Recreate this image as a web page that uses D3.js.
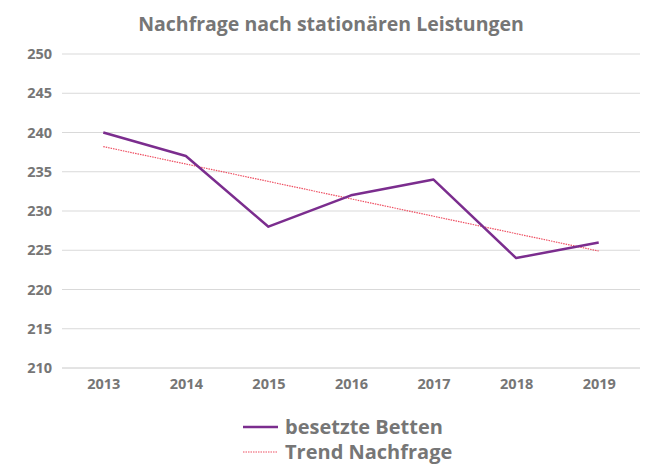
<!DOCTYPE html>
<html>
<head>
<meta charset="utf-8">
<script src="https://cdn.jsdelivr.net/npm/d3@7"></script>
<style>
  body { margin: 0; background: #fff; }
  text { font-family: "Open Sans", sans-serif; font-weight: 700; fill: #767676; }
</style>
</head>
<body>
<div id="chart"></div>
<script>
// chart data
var years = ["2013", "2014", "2015", "2016", "2017", "2018", "2019"];
var betten = [240, 237, 228, 232, 234, 224, 226];
// linear trend, endpoints
var trendYears = ["2013", "2019"];
var trend = [238.2, 224.9];
var yTicks = [210, 215, 220, 225, 230, 235, 240, 245, 250];

var width = 653, height = 464;
var plotLeft = 62, plotRight = 640, plotTop = 54, plotBottom = 368;

var svg = d3.select("#chart").append("svg")
    .attr("width", width)
    .attr("height", height);

var x = d3.scalePoint().domain(years).range([plotLeft, plotRight]).padding(0.5);
var y = d3.scaleLinear().domain([210, 250]).range([plotBottom, plotTop]);

// title
svg.append("text")
    .attr("x", 331).attr("y", 31)
    .attr("text-anchor", "middle")
    .style("font-size", "19.5px")
    .text("Nachfrage nach stationären Leistungen");

// gridlines
svg.append("g").selectAll("line")
    .data(yTicks)
    .enter().append("line")
    .attr("x1", plotLeft).attr("x2", plotRight)
    .attr("y1", function(d) { return y(d); })
    .attr("y2", function(d) { return y(d); })
    .attr("stroke", function(d) { return d === 210 ? "#c8c8c8" : "#d9d9d9"; })
    .attr("stroke-width", 1);

// y axis labels
var yAxis = svg.append("g")
    .attr("transform", "translate(" + (plotLeft - 10) + ",0)")
    .call(d3.axisLeft(y).tickValues(yTicks).tickSize(0).tickPadding(0));
yAxis.select(".domain").remove();
yAxis.selectAll("text").style("font-size", "14.5px");

// x axis labels
var xAxis = svg.append("g")
    .attr("transform", "translate(0," + (plotBottom + 11) + ")")
    .call(d3.axisBottom(x).tickSize(0).tickPadding(0));
xAxis.select(".domain").remove();
xAxis.selectAll("text").style("font-size", "14.5px");

var purple = "#7b2d8e";
var red = "#ee4f62";

// trend line
svg.append("path")
    .datum(trendYears.map(function(d, i) { return [d, trend[i]]; }))
    .attr("fill", "none")
    .attr("stroke", red)
    .attr("stroke-width", 1.2)
    .attr("stroke-dasharray", "1.5,1")
    .attr("d", d3.line().x(function(d) { return x(d[0]); }).y(function(d) { return y(d[1]); }));

// besetzte Betten
svg.append("path")
    .datum(years.map(function(d, i) { return [d, betten[i]]; }))
    .attr("fill", "none")
    .attr("stroke", purple)
    .attr("stroke-width", 2.5)
    .attr("stroke-linejoin", "round")
    .attr("d", d3.line().x(function(d) { return x(d[0]); }).y(function(d) { return y(d[1]); }));

// legend
var legend = [
  { label: "besetzte Betten", color: purple, w: 2.5, dash: null },
  { label: "Trend Nachfrage", color: red, w: 1.2, dash: "1.5,1" }
];
var lg = svg.append("g").selectAll("g")
    .data(legend)
    .enter().append("g")
    .attr("transform", function(d, i) { return "translate(243," + (427 + i * 25) + ")"; });
lg.append("line")
    .attr("x1", 0).attr("x2", 35)
    .attr("stroke", function(d) { return d.color; })
    .attr("stroke-width", function(d) { return d.w; })
    .attr("stroke-dasharray", function(d) { return d.dash; });
lg.append("text")
    .attr("x", 42).attr("y", 7)
    .style("font-size", "20px")
    .text(function(d) { return d.label; });
</script>
</body>
</html>
